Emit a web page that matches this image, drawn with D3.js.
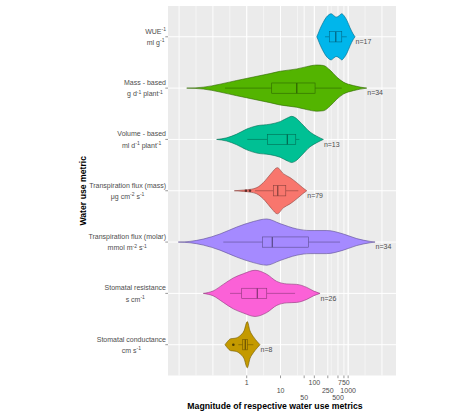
<!DOCTYPE html>
<html><head><meta charset="utf-8">
<script src="https://cdn.jsdelivr.net/npm/d3@7"></script>
<style>body{margin:0;background:#fff}svg{display:block}text{font-family:"Liberation Sans",Arial,sans-serif}</style>
</head><body><svg id="c" width="474" height="419"></svg>
<script>
// ---- data ----
const categories = ["WUE", "Mass", "Volume", "TranspMass", "TranspMolar", "StomResist", "StomCond"];
const labelTop = ["WUE^{-1}", "Mass - based", "Volume - based", "Transpiration flux (mass)", "Transpiration flux (molar)", "Stomatal resistance", "Stomatal conductance"];
const labelBottom = ["ml g^{-1}", "g d^{-1} plant^{-1}", "ml d^{-1} plant^{-1}", "μg cm^{-2} s^{-1}", "mmol m^{-2} s^{-1}", "s cm^{-1}", "cm s^{-1}"];
const sampleSizes = [17, 34, 13, 79, 34, 26, 8];
const palette = ["#00B6EB", "#53B400", "#00C094", "#F8766D", "#A58AFF", "#FB61D7", "#C49A00"];

// violin outlines: magnitude values and relative density (0-1)
const violinValues = [
  [118,129,148,181,222,272,312,383,439,538,647,757,927,1138,1396,1600],
  [0.0168,0.052,0.162,0.506,1.57,4.89,9.66,30.2,59.6,118,185,291,460,721,1426,3550],
  [0.129,0.256,0.506,1,1.98,4.89,9.66,17.0,21.4,26.9,42.4,74.6,118,185],
  [0.43,0.793,1.41,2.2,3.48,5.49,8.04,12.1,19.1,30.2,45.4,59.6],
  [0.00947,0.021,0.052,0.162,0.506,1.57,3.91,9.66,30.2,74.6,233,721,1796,4446,6252],
  [0.052,0.103,0.203,0.402,0.793,1.76,3.91,7.72,15.3,30.2,59.6,93.3,147.5],
  [0.228,0.267,0.336,0.451,0.634,0.832,1.04,1.25,1.57,2.06,2.47]
];
const violinDensity = [
  [0,0.13,0.35,0.61,0.83,0.96,1,0.91,0.85,0.91,1,0.91,0.7,0.39,0.13,0],
  [0,0.04,0.17,0.33,0.48,0.63,0.73,0.83,0.93,1,0.98,0.78,0.48,0.26,0.11,0],
  [0,0.07,0.23,0.45,0.59,0.66,0.77,0.95,1,0.95,0.68,0.32,0.14,0],
  [0,0.03,0.07,0.17,0.43,0.78,1,0.74,0.57,0.35,0.13,0],
  [0,0.03,0.13,0.35,0.65,0.89,1,0.8,0.57,0.5,0.5,0.35,0.15,0.03,0],
  [0,0.11,0.39,0.67,0.85,1,0.83,0.52,0.41,0.39,0.26,0.11,0],
  [0,0.13,0.26,0.28,0.39,0.6,1,0.6,0.35,0.13,0]
];
// boxplot statistics
const whiskerLow  = [207, 0.228, 1.04, 1.76, 0.203, 0.321, 0.564];
const q1s         = [278, 5.49, 4.07, 6.12, 2.97, 0.711, 0.762];
const medians     = [430, 30.2, 15.9, 8.26, 5.72, 2.06, 0.909];
const q3s         = [647, 105, 28.2, 14.3, 66.4, 3.91, 1.04];
const whiskerHigh = [909, 647, 36.0, 33.6, 576, 26.9, 1.57];
const outliers    = [[], [], [], [0.95, 1.25], [], [], [0.402]];

const tickValues = [1, 10, 50, 100, 250, 500, 750, 1000];
const tickLabels = ["1", "10", "50", "100", "250", "500", "750", "1000"];
const gridDecadeExps = [-2, -1.5, -1, -0.5, 0, 0.5, 1, 1.5, 2, 2.5, 3, 3.5, 4];

// ---- layout ----
const svg = d3.select("#c");
const P = {l: 168, r: 396, t: 6, b: 375.5};
const x = d3.scaleLog().domain([0.0047, 26000]).range([P.l, P.r]);
const y = d3.scalePoint().domain(categories).range([P.t, P.b]).padding(0.6);
const halfW = d3.scaleLinear().domain([0, 1]).range([0, y.step() * 0.45]);
const color = d3.scaleOrdinal().domain(categories).range(palette);

svg.append("rect").attr("x", P.l).attr("y", P.t).attr("width", P.r - P.l).attr("height", P.b - P.t).attr("fill", "#EBEBEB");

const grid = svg.append("g");
const minorVals = gridDecadeExps.filter(e => e % 1 !== 0).map(e => Math.pow(10, e));
const majorVals = gridDecadeExps.filter(e => e % 1 === 0).map(e => Math.pow(10, e)).concat(tickValues);
grid.selectAll(".mi").data(minorVals).join("line")
  .attr("x1", d => x(d)).attr("x2", d => x(d)).attr("y1", P.t).attr("y2", P.b)
  .attr("stroke", "#fff").attr("stroke-width", 0.5);
grid.selectAll(".ma").data(majorVals).join("line")
  .attr("x1", d => x(d)).attr("x2", d => x(d)).attr("y1", P.t).attr("y2", P.b)
  .attr("stroke", "#fff").attr("stroke-width", 0.9);
grid.selectAll(".hy").data(categories).join("line")
  .attr("x1", P.l).attr("x2", P.r).attr("y1", d => y(d)).attr("y2", d => y(d))
  .attr("stroke", "#fff").attr("stroke-width", 1);

// violins
const area = d3.area().curve(d3.curveMonotoneX);
categories.forEach((c, i) => {
  const cy = y(c);
  const fill = color(c);
  const dark = d3.color(fill).darker(1.6).formatHex();
  const pts = violinValues[i].map((v, j) => ({v, d: violinDensity[i][j]}));
  const g = svg.append("g");
  g.append("path").datum(pts)
    .attr("d", area.x(d => x(d.v)).y0(d => cy - halfW(d.d)).y1(d => cy + halfW(d.d)))
    .attr("fill", fill).attr("stroke", dark).attr("stroke-width", 0.6);
  const bh = y.step() * 0.2;
  g.append("line").attr("x1", x(whiskerLow[i])).attr("x2", x(q1s[i])).attr("y1", cy).attr("y2", cy).attr("stroke", dark).attr("stroke-width", 0.6);
  g.append("line").attr("x1", x(q3s[i])).attr("x2", x(whiskerHigh[i])).attr("y1", cy).attr("y2", cy).attr("stroke", dark).attr("stroke-width", 0.6);
  g.append("rect").attr("x", x(q1s[i])).attr("width", x(q3s[i]) - x(q1s[i])).attr("y", cy - bh / 2).attr("height", bh)
    .attr("fill", fill).attr("stroke", dark).attr("stroke-width", 0.6);
  g.append("line").attr("x1", x(medians[i])).attr("x2", x(medians[i])).attr("y1", cy - bh / 2).attr("y2", cy + bh / 2)
    .attr("stroke", dark).attr("stroke-width", 1.3);
  g.selectAll("circle").data(outliers[i]).join("circle")
    .attr("cx", d => x(d)).attr("cy", cy).attr("r", 1.3).attr("fill", d3.color(fill).darker(2.6).formatHex());
  const vmax = violinValues[i][violinValues[i].length - 1];
  g.append("text").attr("x", x(vmax) + 0.5).attr("y", cy + 7.2)
    .attr("font-size", 7).attr("fill", "#4D4D4D").text("n=" + sampleSizes[i]);
});

// x axis ticks and dodged labels
const xa = svg.append("g");
xa.selectAll("line").data(tickValues).join("line")
  .attr("x1", d => x(d)).attr("x2", d => x(d)).attr("y1", P.b).attr("y2", P.b + 2.7)
  .attr("stroke", "#333").attr("stroke-width", 0.5);
xa.selectAll("text").data(tickValues).join("text")
  .attr("x", d => x(d)).attr("y", (d, i) => P.b + 9.5 + (i % 3) * 7.6)
  .attr("text-anchor", "middle").attr("font-size", 7).attr("fill", "#4D4D4D")
  .text((d, i) => tickLabels[i]);

// y axis ticks and two-line labels
function rich(sel, s) {
  const parts = s.split(/\^\{([^}]*)\}/);
  parts.forEach((p, k) => {
    if (p === "") return;
    if (k % 2 === 1) sel.append("tspan").attr("font-size", 5).attr("dy", -2.8).text(p);
    else sel.append("tspan").attr("dy", k > 0 ? 2.8 : 0).text(p);
  });
}
const ya = svg.append("g");
categories.forEach((c, i) => {
  const cy = y(c);
  ya.append("line").attr("x1", P.l - 2.7).attr("x2", P.l).attr("y1", cy).attr("y2", cy).attr("stroke", "#333").attr("stroke-width", 0.5);
  const t1 = ya.append("text").attr("font-size", 7).attr("fill", "#4D4D4D").attr("text-anchor", "middle").attr("y", cy - 3.2);
  rich(t1, labelTop[i]);
  const t2 = ya.append("text").attr("font-size", 7).attr("fill", "#4D4D4D").attr("text-anchor", "middle").attr("y", cy + 8.3);
  rich(t2, labelBottom[i]);
  const w = Math.max(t1.node().getComputedTextLength(), t2.node().getComputedTextLength());
  const cx = P.l - 2 - w / 2;
  t1.attr("x", cx); t2.attr("x", cx);
  t1.select("tspan").attr("x", null);
});

// axis titles
svg.append("text").attr("x", 275).attr("y", 409).attr("text-anchor", "middle")
  .attr("font-size", 8.7).attr("font-weight", "bold").attr("fill", "#000")
  .text("Magnitude of respective water use metrics");
svg.append("text").attr("transform", `translate(86,${(P.t + P.b) / 2}) rotate(-90)`).attr("text-anchor", "middle")
  .attr("font-size", 8.7).attr("font-weight", "bold").attr("fill", "#000")
  .text("Water use metric");
</script></body></html>
